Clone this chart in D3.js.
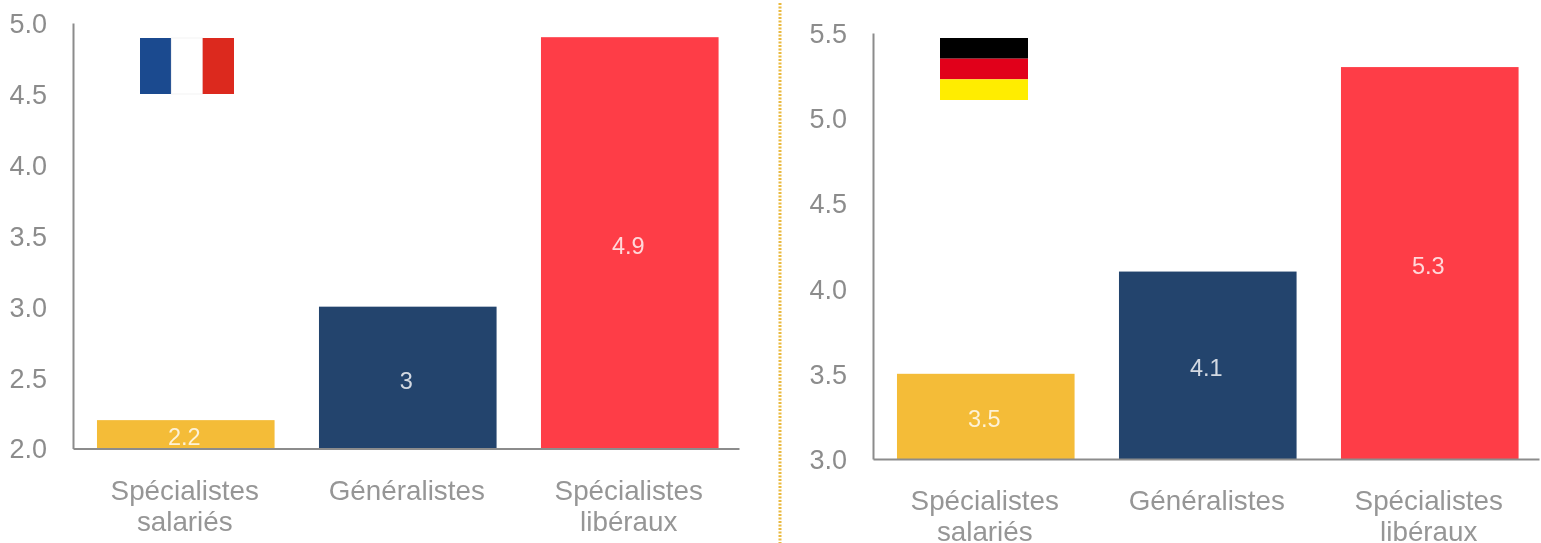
<!DOCTYPE html>
<html>
<head>
<meta charset="utf-8">
<script src="https://cdn.jsdelivr.net/npm/d3@7"></script>
<style>
  html, body { margin: 0; padding: 0; background: #fff; }
  svg { display: block; filter: blur(0.6px); }
  text { font-family: "Liberation Sans", Arial, sans-serif; }
</style>
</head>
<body>
<div id="chart"></div>
<script>
var categories = [["Spécialistes", "salariés"], ["Généralistes"], ["Spécialistes", "libéraux"]];
var barColors = ["#f4bc38", "#23446d", "#fe3d47"];

var franceValues = [2.2, 3, 4.9];
var franceTicks = [2.0, 2.5, 3.0, 3.5, 4.0, 4.5, 5.0];
var franceStripes = ["#1b4a8f", "#ffffff", "#dc291e"];

var germanyValues = [3.5, 4.1, 5.3];
var germanyTicks = [3.0, 3.5, 4.0, 4.5, 5.0, 5.5];
var germanyStripes = ["#000000", "#e1001a", "#ffed00"];

var w = 1541;
var h = 543;

var svg = d3.select("#chart")
            .append("svg")
            .attr("width", w)
            .attr("height", h);

function drawPanel(opts) {
    var x = d3.scaleBand()
              .domain(d3.range(categories.length))
              .range([opts.left, opts.right])
              .paddingInner(0.2)
              .paddingOuter(0.1)
              .align(0.54);

    var y = d3.scaleLinear()
              .domain([opts.ticks[0], opts.ticks[opts.ticks.length - 1]])
              .range([opts.bottom, opts.top]);

    var g = svg.append("g");

    // Bars first, the axis lines sit on top of them
    g.selectAll("rect.bar")
     .data(opts.values)
     .enter()
     .append("rect")
     .attr("class", "bar")
     .attr("x", (d, i) => x(i))
     .attr("y", d => y(d))
     .attr("width", x.bandwidth())
     .attr("height", d => opts.bottom - y(d))
     .attr("fill", (d, i) => barColors[i]);

    // Labels sit in the middle of the bar
    g.selectAll("text.value")
     .data(opts.values)
     .enter()
     .append("text")
     .attr("class", "value")
     .attr("x", (d, i) => x(i) + x.bandwidth() / 2 - 1.5)
     .attr("y", d => (y(d) + opts.bottom) / 2 + 11)
     .attr("text-anchor", "middle")
     .attr("font-size", 23.5)
     .attr("fill", "#fff")
     .attr("fill-opacity", 0.8)
     .text(d => d);

    var yAxis = d3.axisLeft(y)
                  .tickValues(opts.ticks)
                  .tickFormat(d3.format(".1f"))
                  .tickSize(0)
                  .tickPadding(opts.tickPadding);

    var yG = g.append("g")
              .attr("transform", `translate(${opts.left},0)`)
              .call(yAxis);
    yG.select(".domain").attr("stroke", "#8c8c8c").attr("stroke-width", 2);
    yG.selectAll("text")
      .attr("font-family", null)
      .attr("font-size", 27)
      .attr("dy", "0.35em")
      .attr("fill", "#8c8c8c");

    var xAxis = d3.axisBottom(x)
                  .tickSize(0)
                  .tickFormat("");

    var xG = g.append("g")
              .attr("transform", `translate(0,${opts.bottom})`)
              .call(xAxis);
    xG.select(".domain").attr("stroke", "#8c8c8c").attr("stroke-width", 2);

    // Category labels are two lines, so tspans instead of the axis text
    g.selectAll("text.cat")
     .data(categories)
     .enter()
     .append("text")
     .attr("class", "cat")
     .attr("text-anchor", "middle")
     .attr("font-size", 27.8)
     .attr("fill", "#969696")
     .each(function(lines, i) {
         d3.select(this).selectAll("tspan")
           .data(lines)
           .enter()
           .append("tspan")
           .attr("x", x(i) + x.bandwidth() / 2 - 1)
           .attr("y", (d, j) => opts.bottom + 51 + j * 31)
           .text(d => d);
     });

    // Flag stripes
    var stripe = d3.scaleBand()
                   .domain(d3.range(opts.stripes.length));
    var f = opts.flag;
    if (opts.flagVertical) {
        stripe.range([f.x, f.x + f.w]);
    } else {
        stripe.range([f.y, f.y + f.h]);
    }
    g.selectAll("rect.stripe")
     .data(opts.stripes)
     .enter()
     .append("rect")
     .attr("class", "stripe")
     .attr("x", (d, i) => opts.flagVertical ? stripe(i) : f.x)
     .attr("y", (d, i) => opts.flagVertical ? f.y : stripe(i))
     .attr("width", opts.flagVertical ? stripe.bandwidth() : f.w)
     .attr("height", opts.flagVertical ? f.h : stripe.bandwidth())
     .attr("fill", d => d)
     .attr("stroke", d => d == "#ffffff" ? "#f1f1f1" : "none")
     .attr("stroke-width", 0.8);
}

drawPanel({
    values: franceValues, ticks: franceTicks, stripes: franceStripes,
    left: 73, right: 739, top: 23, bottom: 448.5, tickPadding: 26,
    flag: {x: 140, y: 38, w: 94, h: 56}, flagVertical: true
});

drawPanel({
    values: germanyValues, ticks: germanyTicks, stripes: germanyStripes,
    left: 873, right: 1539, top: 33, bottom: 459, tickPadding: 26,
    flag: {x: 940, y: 38, w: 88, h: 62}, flagVertical: false
});

// Dotted separator between the two panels
svg.append("line")
   .attr("x1", 780)
   .attr("x2", 780)
   .attr("y1", 3)
   .attr("y2", h)
   .attr("stroke", "#eab93f")
   .attr("stroke-width", 3)
   .attr("stroke-dasharray", "2 1.5");
</script>
</body>
</html>
